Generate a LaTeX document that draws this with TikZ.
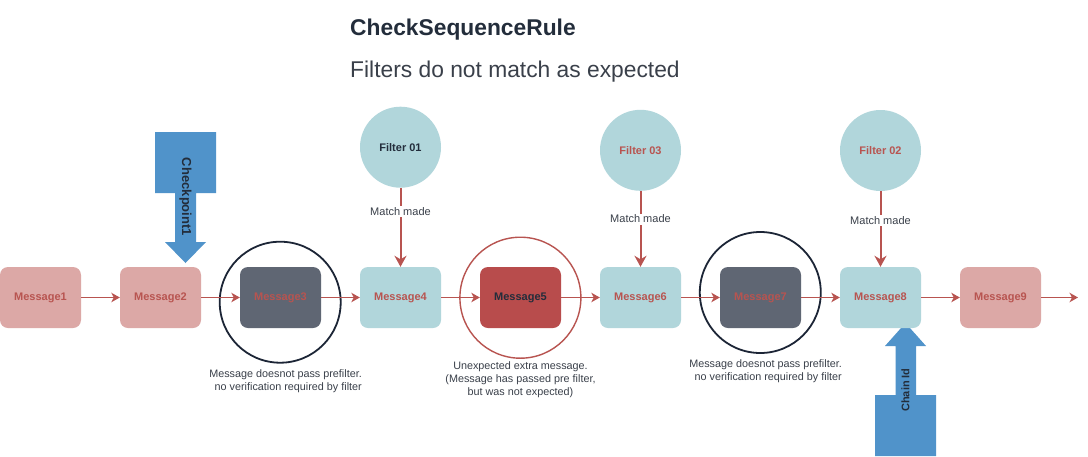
\documentclass[tikz,border=0pt]{standalone}
\usepackage{fontspec}
\setmainfont{Liberation Sans}
\usetikzlibrary{arrows.meta}

\definecolor{pinkfill}{HTML}{DCA8A6}
\definecolor{tealfill}{HTML}{B1D6DB}
\definecolor{slatefill}{HTML}{5F6673}
\definecolor{alertfill}{HTML}{B84C4C}
\definecolor{flowred}{HTML}{B85450}
\definecolor{pointer}{HTML}{5093CA}
\definecolor{ringnavy}{HTML}{1C2536}
\definecolor{inkdark}{HTML}{232D3B}
\definecolor{inkgray}{HTML}{3A404A}

\tikzset{
  msgbox/.style={rectangle, rounded corners=8pt, minimum width=81pt,
    minimum height=61pt, inner sep=0pt, draw=none,
    font=\bfseries\fontsize{11}{13}\selectfont, text=flowred},
  pinkmsg/.style={msgbox, fill=pinkfill},
  tealmsg/.style={msgbox, fill=tealfill},
  slatemsg/.style={msgbox, fill=slatefill},
  alertmsg/.style={msgbox, fill=alertfill, text=inkdark},
  filterdot/.style={circle, fill=tealfill, minimum size=81pt, inner sep=0pt,
    font=\bfseries\fontsize{11}{13}\selectfont},
  ring/.style={circle, minimum size=121pt, inner sep=0pt},
  flow/.style={draw=flowred, line width=1.3pt,
    -{Stealth[length=8.5pt,width=9.5pt,inset=2.5pt]}},
  matchflow/.style={draw=flowred, line width=2pt,
    -{Stealth[length=11pt,width=12pt,inset=3.5pt]}},
  matchlabel/.style={fill=white, inner sep=1.5pt, text=inkgray,
    font=\fontsize{11}{13}\selectfont},
  note/.style={text=inkgray, font=\fontsize{10.8}{13.2}\selectfont, inner sep=0pt},
  pointerlabel/.style={text=inkdark, inner sep=0pt}
}

\begin{document}
\begin{tikzpicture}[x=1pt, y=-1pt]
  % canvas
  \path[use as bounding box, fill=white] (0,0) rectangle (1088,456);

  % heading
  \node[anchor=base west, inner sep=0pt, text=inkdark,
        font=\bfseries\fontsize{22.8}{27}\selectfont] (title) at (350,35.7) {CheckSequenceRule};
  \node[anchor=base west, inner sep=0pt, text=inkgray,
        font=\fontsize{22.8}{27}\selectfont] (subtitle) at (350,77.3) {Filters do not match as expected};

  % checkpoint pointer (above Message2)
  \fill[pointer] (155,132) -- (216,132) -- (216,193) -- (196,193) -- (196,242)
    -- (206,242) -- (185.5,263) -- (165,242) -- (175,242) -- (175,193)
    -- (155,193) -- cycle;
  \node[pointerlabel, rotate=-90, font=\bfseries\fontsize{13}{15}\selectfont]
    (cplabel) at (185.5,197) {Checkpoint1};

  % chain id pointer (below Message8), tip hidden under the box
  \fill[pointer] (875,456) -- (936,456) -- (936,395) -- (916,395) -- (916,346)
    -- (926,346) -- (905.5,323) -- (885,346) -- (895.5,346) -- (895.5,395)
    -- (875,395) -- cycle;
  \node[pointerlabel, rotate=90, font=\bfseries\fontsize{11}{13}\selectfont]
    (chainlabel) at (905.5,390) {Chain Id};

  % message chain
  \node[pinkmsg]  (m1) at (40.5,297.5)  {Message1};
  \node[pinkmsg]  (m2) at (160.5,297.5) {Message2};
  \node[slatemsg] (m3) at (280.5,297.5) {Message3};
  \node[tealmsg]  (m4) at (400.5,297.5) {Message4};
  \node[alertmsg] (m5) at (520.5,297.5) {Message5};
  \node[tealmsg]  (m6) at (640.5,297.5) {Message6};
  \node[slatemsg] (m7) at (760.5,297.5) {Message7};
  \node[tealmsg]  (m8) at (880.5,297.5) {Message8};
  \node[pinkmsg]  (m9) at (1000.5,297.5) {Message9};
  \coordinate (tail) at (1078,297.5);

  % highlight rings
  \node[ring, draw=ringnavy, line width=1.8pt] (r3) at (280.2,302.2) {};
  \node[ring, draw=flowred, line width=1.4pt]  (r5) at (520.4,297.7) {};
  \node[ring, draw=ringnavy, line width=1.8pt] (r7) at (760.3,292.5) {};

  % sequence arrows
  \draw[flow] (m1) -- (m2);
  \draw[flow] (m2) -- (m3);
  \draw[flow] (m3) -- (m4);
  \draw[flow] (m4) -- (m5);
  \draw[flow] (m5) -- (m6);
  \draw[flow] (m6) -- (m7);
  \draw[flow] (m7) -- (m8);
  \draw[flow] (m8) -- (m9);
  \draw[flow] (m9) -- (tail);

  % filters
  \node[filterdot, text=inkdark] (f1) at (400.5,147.2) {Filter 01};
  \node[filterdot, text=flowred] (f3) at (640.5,150.3) {Filter 03};
  \node[filterdot, text=flowred] (f2) at (880.5,150.5) {Filter 02};

  \draw[matchflow] (f1) -- node[matchlabel, pos=0.30] (lbl1) {Match made} (m4);
  \draw[matchflow] (f3) -- node[matchlabel, pos=0.37] (lbl3) {Match made} (m6);
  \draw[matchflow] (f2) -- node[matchlabel, pos=0.39] (lbl2) {Match made} (m8);

  % notes
  \node[note, align=right, anchor=east] (n3) at (362,381)
    {Message doesnot pass prefilter.\\no verification required by filter};
  \node[note, align=center] (n5) at (520.5,379.5)
    {Unexpected extra message.\\(Message has passed pre filter,\\but was not expected)};
  \node[note, align=right, anchor=east] (n7) at (842,371.2)
    {Message doesnot pass prefilter.\\no verification required by filter};
\end{tikzpicture}
\end{document}
